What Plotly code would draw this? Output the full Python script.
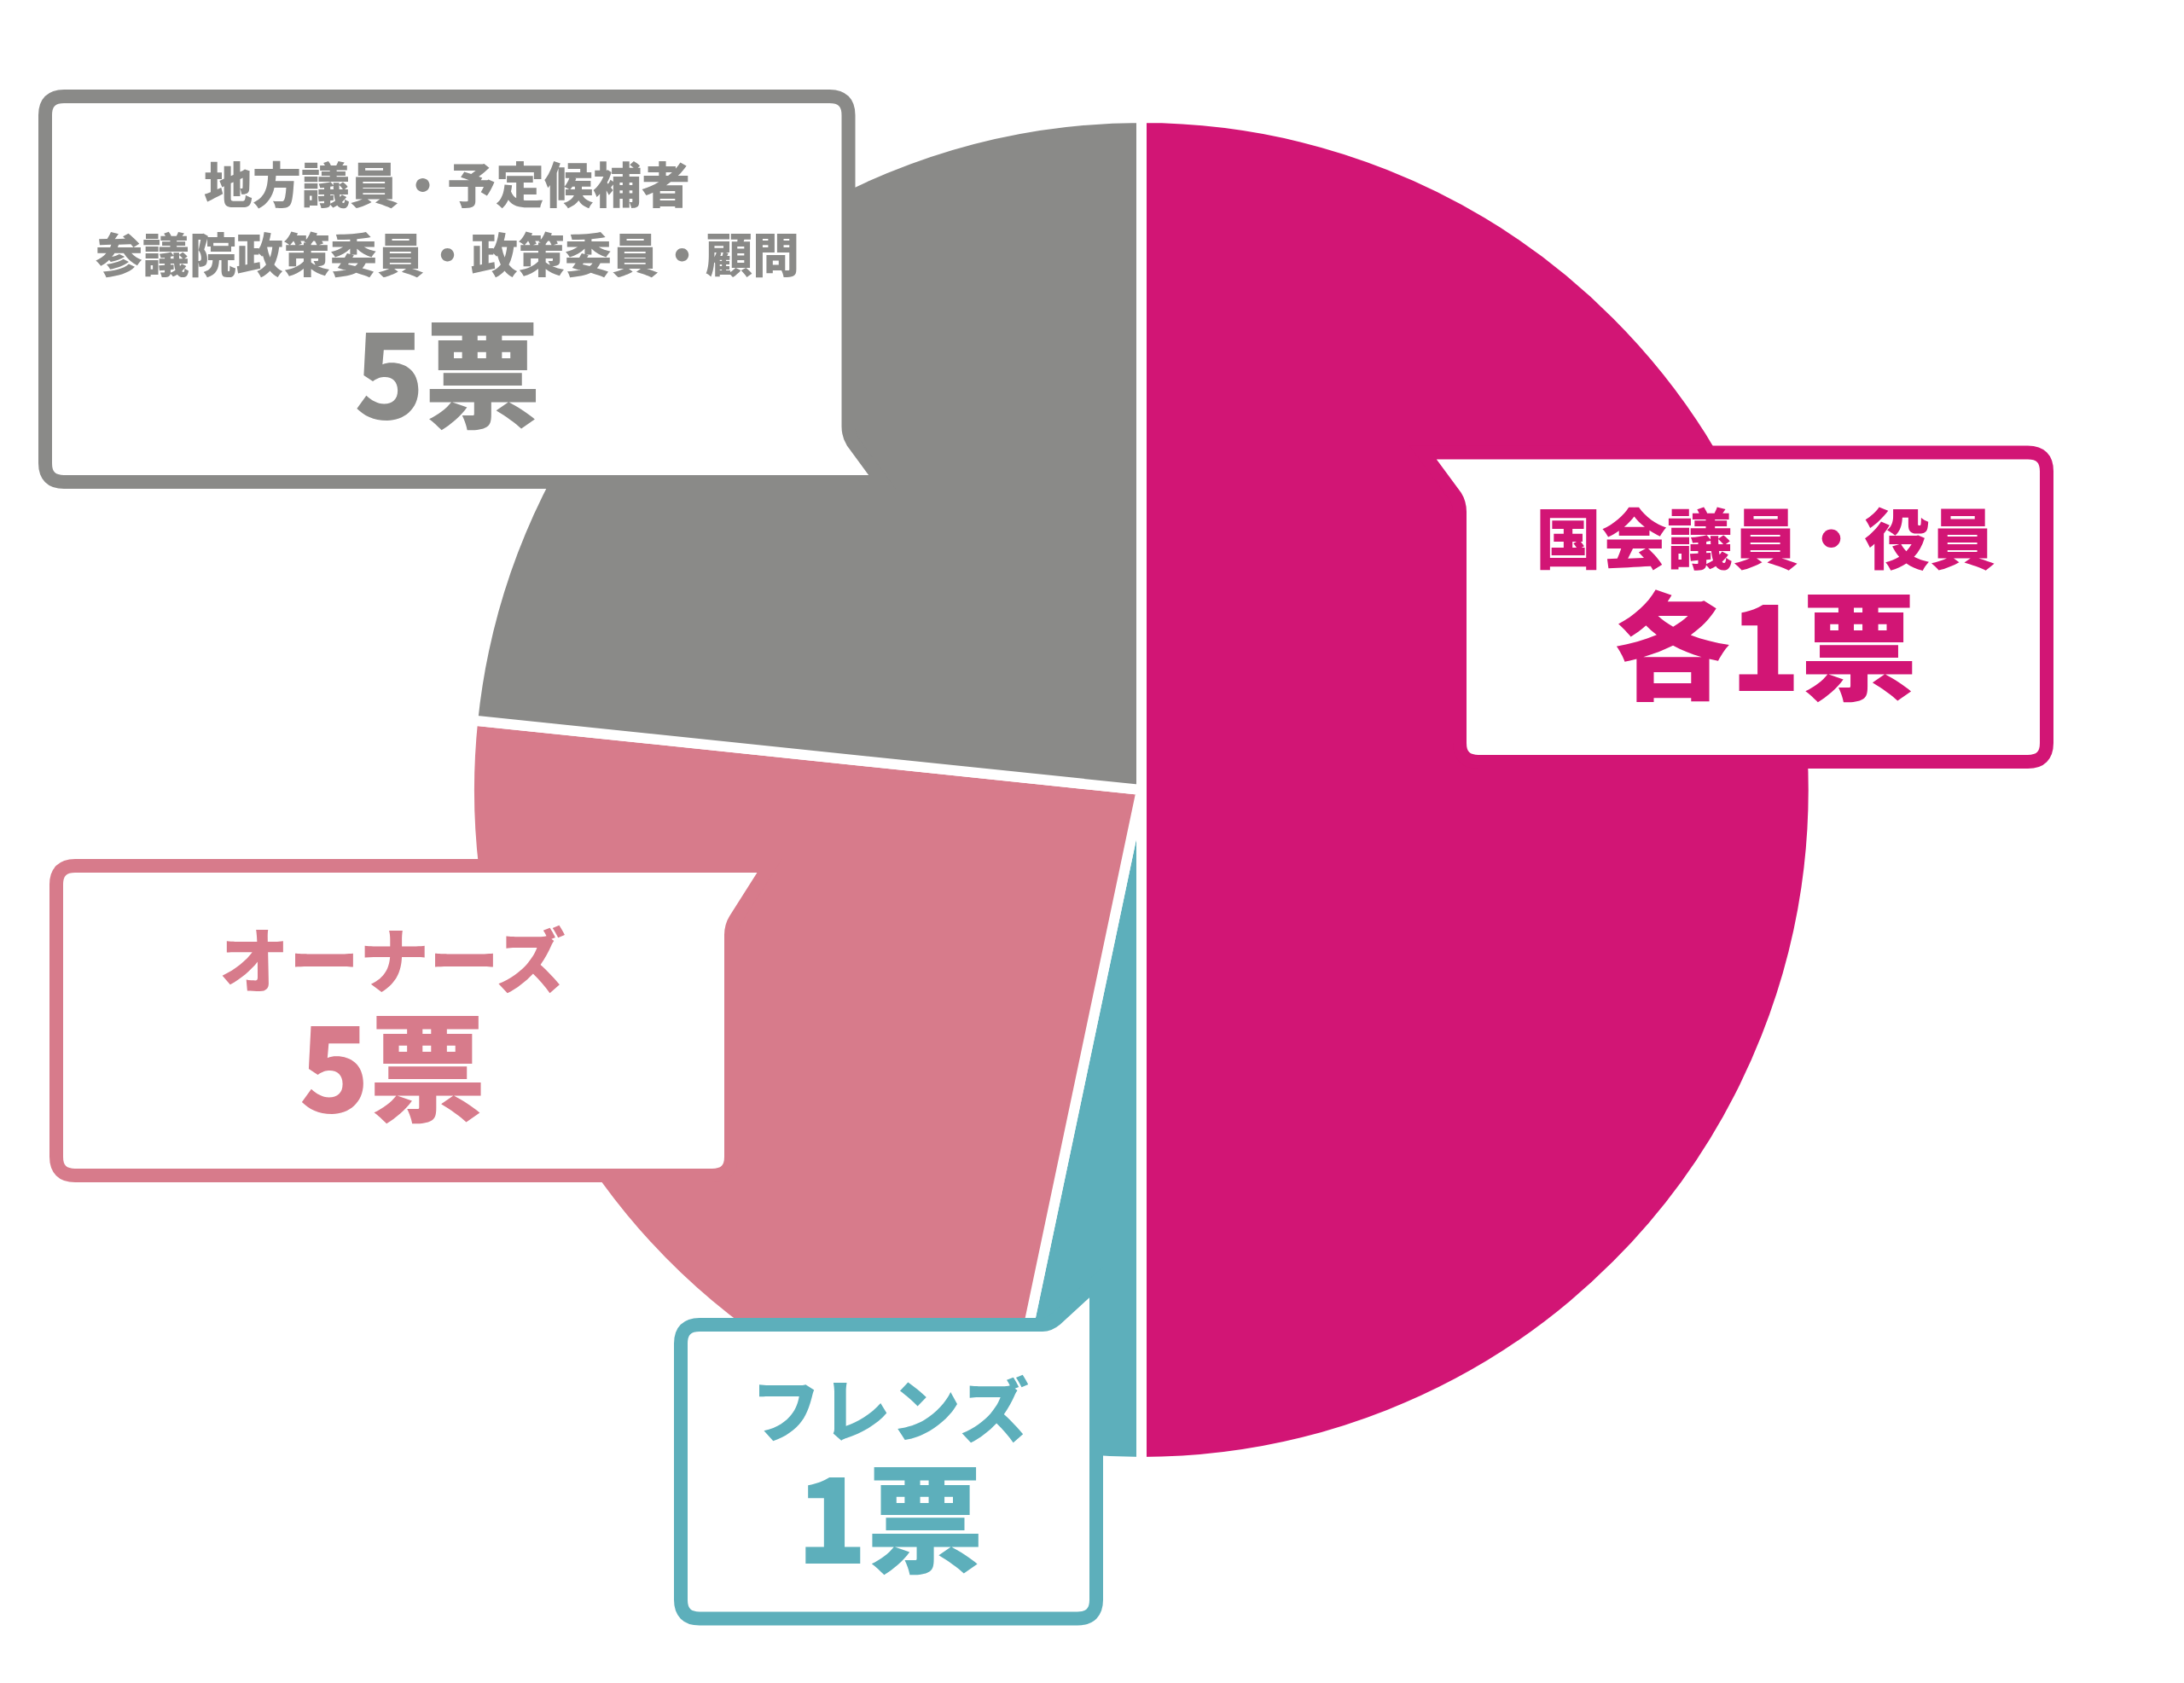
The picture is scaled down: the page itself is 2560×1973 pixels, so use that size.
import plotly.graph_objects as go

# ---- data ----
categories = ["国会議員・役員", "フレンズ", "オーナーズ", "地方議員・予定候補者／参議院政策委員・政策委員・顧問"]
values = [50.0, 3.3, 23.35, 23.35]
colors = ["#D21575", "#5DAFBB", "#D77B8B", "#8A8A88"]

label_gray_1 = "地方議員・予定候補者"
label_gray_2 = "参議院政策委員・政策委員・顧問"
label_gray_v = "5票"
label_mag_1 = "国会議員・役員"
label_mag_v = "各1票"
label_pink_1 = "オーナーズ"
label_pink_v = "5票"
label_teal_1 = "フレンズ"
label_teal_v = "1票"

W, H = 2560, 1973
FONT = "Noto Sans CJK JP"

fig = go.Figure()

# pie (center ~ (1338, 926) px, radius ~788 incl. white border)
cx, cy, r = 1338, 926, 788
fig.add_trace(go.Pie(
    labels=categories, values=values, sort=False, direction="clockwise", rotation=0,
    marker=dict(colors=colors, line=dict(color="white", width=12)),
    textinfo="none", hoverinfo="label+percent", showlegend=False,
    domain=dict(x=[(cx - r) / W, (cx + r) / W], y=[1 - (cy + r) / H, 1 - (cy - r) / H]),
))

# hidden pixel axes for overlay
fig.add_trace(go.Scatter(x=[0, W], y=[0, H], mode="markers", marker=dict(opacity=0),
                         hoverinfo="skip", showlegend=False))

rad = 22
shapes = []
# gray box, tail bottom-right
L, T, R, B = 53, 113, 994.5, 565
p_gray = (f"M {L+rad},{T} L {R-rad},{T} Q {R},{T} {R},{T+rad} L {R},500 Q {R},510 {R+5},518 L 1034,{B} "
          f"L {L+rad},{B} Q {L},{B} {L},{B-rad} L {L},{T+rad} Q {L},{T} {L+rad},{T} Z")
# magenta box, tail top-left
L, T, R, B = 1711, 530.5, 2399, 893
p_mag = (f"M 1668,{T} L {R-rad},{T} Q {R},{T} {R},{T+rad} L {R},{B-rad} Q {R},{B} {R-rad},{B} "
         f"L {L+rad},{B} Q {L},{B} {L},{B-rad} L {L},600 Q {L},590 {L-5},582 Z")
# pink box, tail top-right
L, T, R, B = 66, 1015, 857, 1378
p_pink = (f"M {L+rad},{T} L 902,{T} L {R+5},1078 Q {R},1086 {R},1096 L {R},{B-rad} Q {R},{B} {R-rad},{B} "
          f"L {L+rad},{B} Q {L},{B} {L},{B-rad} L {L},{T+rad} Q {L},{T} {L+rad},{T} Z")
# teal box, tail up at top-right
L, T, R, B = 798, 1553, 1285, 1897.5
p_teal = (f"M {L+rad},{T} L 1222,{T} Q 1230,{T} 1237,{T-6} L {R},1503 L {R},{B-rad} Q {R},{B} {R-rad},{B} "
          f"L {L+rad},{B} Q {L},{B} {L},{B-rad} L {L},{T+rad} Q {L},{T} {L+rad},{T} Z")

for path, col in [(p_gray, colors[3]), (p_mag, colors[0]), (p_pink, colors[2]), (p_teal, colors[1])]:
    shapes.append(dict(type="path", path=path, xref="x", yref="y", fillcolor="white",
                       line=dict(color=col, width=16), layer="above"))

ASC, DESC, GC = 1.16, 0.288, 0.363  # font metrics (em) for box/glyph placement

ann = []
def txt(x, yc, s, size, col):
    # yc = desired visual glyph centre
    y = yc - (ASC - DESC) / 2 * size + GC * size
    y = yc - (GC - (ASC - DESC) / 2) * size * -1 if False else yc - (0.436 - GC) * size
    ann.append(dict(x=x, y=y, xref="x", yref="y", text=s, showarrow=False,
                    xanchor="center", yanchor="middle",
                    font=dict(family=FONT, size=size, color=col, weight=900)))

def txt2(x, c1, s1, t1, c2, s2, t2, col):
    b1 = c1 + GC * s1
    b2 = c2 + GC * s2
    base = (b2 - b1) / 1.3
    top = b1 - ASC * s1
    bot = b2 + DESC * s2
    text = (f"<span style='font-size:{s1}px'>{t1}</span><br>"
            f"<span style='font-size:{s2}px'>{t2}</span>")
    ann.append(dict(x=x, y=(top + bot) / 2, xref="x", yref="y", text=text, showarrow=False,
                    xanchor="center", yanchor="middle", align="center",
                    font=dict(family=FONT, size=base, color=col, weight=900)))

txt(524, 217, label_gray_1, 57, colors[3])
txt(524, 299, label_gray_2, 55, colors[3])
txt(524, 441, label_gray_v, 136, colors[3])
txt2(2069, 633, 77, label_mag_1, 761, 136, label_mag_v, colors[0])
txt2(460, 1127, 82, label_pink_1, 1254, 136, label_pink_v, colors[2])
txt2(1043, 1654, 82, label_teal_1, 1783, 136, label_teal_v, colors[1])

fig.update_layout(
    width=W, height=H, margin=dict(l=0, r=0, t=0, b=0),
    paper_bgcolor="white", plot_bgcolor="rgba(0,0,0,0)",
    xaxis=dict(range=[0, W], visible=False, domain=[0, 1], fixedrange=True),
    yaxis=dict(range=[H, 0], visible=False, domain=[0, 1], fixedrange=True),
    shapes=shapes, annotations=ann, showlegend=False,
)

fig.write_html("out.html")
